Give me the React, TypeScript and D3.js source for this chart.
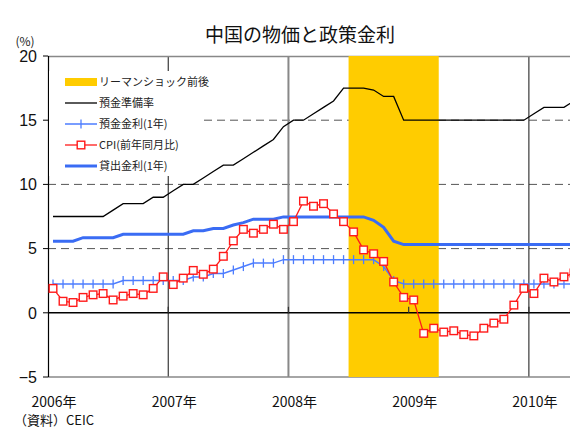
import React from "react";
import * as d3 from "d3";

// Monthly data, Jan 2006 – May 2010
const startYear = 2006;
const nMonths = 53;
const yearLabels = ["2006年", "2007年", "2008年", "2009年", "2010年"];
const yTicks = [20, 15, 10, 5, 0, -5];
const yTickLabels = ["20", "15", "10", "5", "0", "\u22125"];

const reserveRatio = [
  7.5, 7.5, 7.5, 7.5, 7.5, 7.5, 8.0, 8.5, 8.5, 8.5, 9.0, 9.0,
  9.5, 10.0, 10.0, 10.5, 11.0, 11.5, 11.5, 12.0, 12.5, 13.0, 13.5, 14.5,
  15.0, 15.0, 15.5, 16.0, 16.5, 17.5, 17.5, 17.5, 17.35, 16.85, 16.85, 15.0,
  15.0, 15.0, 15.0, 15.0, 15.0, 15.0, 15.0, 15.0, 15.0, 15.0, 15.0, 15.0,
  15.5, 16.0, 16.0, 16.0, 16.5,
];

const depositRate = [
  2.25, 2.25, 2.25, 2.25, 2.25, 2.25, 2.25, 2.52, 2.52, 2.52, 2.52, 2.52,
  2.52, 2.52, 2.79, 2.79, 3.06, 3.06, 3.33, 3.6, 3.87, 3.87, 3.87, 4.14,
  4.14, 4.14, 4.14, 4.14, 4.14, 4.14, 4.14, 4.14, 4.14, 3.6, 2.52, 2.25,
  2.25, 2.25, 2.25, 2.25, 2.25, 2.25, 2.25, 2.25, 2.25, 2.25, 2.25, 2.25,
  2.25, 2.25, 2.25, 2.25, 2.25,
];

const cpi = [
  1.9, 0.9, 0.8, 1.2, 1.4, 1.5, 1.0, 1.3, 1.5, 1.4, 1.9, 2.8,
  2.2, 2.7, 3.3, 3.0, 3.4, 4.4, 5.6, 6.5, 6.2, 6.5, 6.9, 6.5,
  7.1, 8.7, 8.3, 8.5, 7.7, 7.1, 6.3, 4.9, 4.6, 4.0, 2.4, 1.2,
  1.0, -1.6, -1.2, -1.5, -1.4, -1.7, -1.8, -1.2, -0.8, -0.5, 0.6, 1.9,
  1.5, 2.7, 2.4, 2.8, 3.1,
];

const lendingRate = [
  5.58, 5.58, 5.58, 5.85, 5.85, 5.85, 5.85, 6.12, 6.12, 6.12, 6.12, 6.12,
  6.12, 6.12, 6.39, 6.39, 6.57, 6.57, 6.84, 7.02, 7.29, 7.29, 7.29, 7.47,
  7.47, 7.47, 7.47, 7.47, 7.47, 7.47, 7.47, 7.47, 7.2, 6.66, 5.58, 5.31,
  5.31, 5.31, 5.31, 5.31, 5.31, 5.31, 5.31, 5.31, 5.31, 5.31, 5.31, 5.31,
  5.31, 5.31, 5.31, 5.31, 5.31,
];

// Lehman shock period: Jul 2008 – Mar 2009 (month indices)
const lehmanStart = 30;
const lehmanEnd = 39;

const legendItems = [
  "リーマンショック前後",
  "預金準備率",
  "預金金利(1年)",
  "CPI(前年同月比)",
  "貸出金利(1年)",
];

const months = d3.range(nMonths).map((i) => `${startYear + Math.floor(i / 12)}-${(i % 12) + 1}`);

const JP = "'Noto Sans CJK JP', 'Noto Sans', sans-serif";
const NUM = "'Liberation Sans', Arial, sans-serif";

export default function App() {
  const W = 570;
  const H = 428;
  const left = 48;
  const top = 56;
  const bottom = 377;
  const xScale = d3.scaleLinear().domain([0, months.length]).range([left, 579]);
  const y = d3.scaleLinear().domain([-5, 20]).range([bottom, top]);
  const xm = (i: number) => xScale(i + 0.5);
  const right = W;

  const line = d3
    .line<number>()
    .x((_, i) => xm(i))
    .y((d) => y(d));

  const blue = "#3a6cf4";
  const depBlue = "#4d7dff";
  const red = "#ff1a1a";
  const yellow = "#ffcc00";

  const yearTicks = [12, 24, 36, 48];

  return (
    <svg width={W} height={H} style={{ display: "block", position: "absolute", left: 0, top: 0 }}>
      <rect x={0} y={0} width={W} height={H} fill="#fff" />
      {/* title */}
      <text x={300} y={42} textAnchor="middle" fontFamily={JP} fontSize={19} fill="#111">
        中国の物価と政策金利
      </text>
      <text x={25} y={46} textAnchor="middle" fontFamily={JP} fontSize={12} fill="#222">
        (%)
      </text>

      {/* dashed gridlines */}
      {[5, 10, 15].map((v) => (
        <line key={v} x1={left} x2={right} y1={y(v)} y2={y(v)} stroke="#555" strokeWidth={1} strokeDasharray="8,5" />
      ))}
      {/* vertical year lines */}
      {yearTicks.map((m, k) => (
        <line
          key={m}
          x1={xScale(m)}
          x2={xScale(m)}
          y1={top}
          y2={bottom}
          stroke={k === 1 ? "#888" : "#111"}
          strokeWidth={k === 1 ? 2 : 1}
        />
      ))}
      {/* top/bottom border */}
      <line x1={left} x2={right} y1={top + 0.5} y2={top + 0.5} stroke="#888" strokeWidth={1.5} />
      <line x1={left} x2={right} y1={bottom} y2={bottom} stroke="#888" strokeWidth={1.5} />

      {/* Lehman band */}
      <rect
        x={xScale(lehmanStart)}
        y={top}
        width={xScale(lehmanEnd) - xScale(lehmanStart)}
        height={bottom - top}
        fill={yellow}
      />

      {/* zero line with ticks */}
      <line x1={left} x2={right} y1={y(0)} y2={y(0)} stroke="#000" strokeWidth={1.5} />
      {yearTicks.map((m) => (
        <line key={"t" + m} x1={xScale(m)} x2={xScale(m)} y1={y(0)} y2={y(0) - 6} stroke="#333" strokeWidth={1.2} />
      ))}

      {/* left axis */}
      <line x1={left + 0.5} x2={left + 0.5} y1={top} y2={bottom} stroke="#000" strokeWidth={1.2} />
      {yTicks.map((v, i) => (
        <g key={v}>
          <line x1={left - 5} x2={left} y1={y(v)} y2={y(v)} stroke="#000" strokeWidth={1} />
          <text x={37} y={y(v)} dy="0.36em" textAnchor="end" fontFamily={NUM} fontSize={16} fill="#111">
            {yTickLabels[i]}
          </text>
        </g>
      ))}

      {/* x labels */}
      {yearLabels.map((lab, k) => (
        <text key={lab} x={xScale(12 * k) + 6} y={407} textAnchor="middle" fontFamily={JP} fontSize={14} fill="#111">
          {lab}
        </text>
      ))}
      <text x={14} y={425} fontFamily={JP} fontSize={13} fill="#111">
        （資料）CEIC
      </text>

      {/* series */}
      <path d={line(reserveRatio) || ""} fill="none" stroke="#000" strokeWidth={1.3} />
      <path d={line(lendingRate) || ""} fill="none" stroke={blue} strokeWidth={3} />
      <path d={line(depositRate) || ""} fill="none" stroke={depBlue} strokeWidth={1.5} />
      {depositRate.map((v, i) => (
        <line key={"d" + i} x1={xm(i)} x2={xm(i)} y1={y(v) - 4.5} y2={y(v) + 4.5} stroke={depBlue} strokeWidth={1.3} />
      ))}
      <path d={line(cpi) || ""} fill="none" stroke={red} strokeWidth={1.3} />
      {cpi.map((v, i) => (
        <rect key={"c" + i} x={xm(i) - 3.8} y={y(v) - 3.8} width={7.6} height={7.6} fill="#fff" stroke={red} strokeWidth={1.4} />
      ))}

      {/* legend */}
      <rect x={49} y={71} width={152} height={105} fill="#fff" />
      {legendItems.map((lab, i) => {
        const ly = 82 + i * 21;
        return (
          <g key={lab}>
            {i === 0 && <rect x={65} y={ly - 4} width={32} height={8} fill={yellow} />}
            {i === 1 && <line x1={65} x2={97} y1={ly} y2={ly} stroke="#000" strokeWidth={1.3} />}
            {i === 2 && (
              <g>
                <line x1={65} x2={97} y1={ly} y2={ly} stroke={depBlue} strokeWidth={1.5} />
                <line x1={81} x2={81} y1={ly - 4.5} y2={ly + 4.5} stroke={depBlue} strokeWidth={1.3} />
              </g>
            )}
            {i === 3 && (
              <g>
                <line x1={65} x2={97} y1={ly} y2={ly} stroke={red} strokeWidth={1.3} />
                <rect x={77.2} y={ly - 3.8} width={7.6} height={7.6} fill="#fff" stroke={red} strokeWidth={1.4} />
              </g>
            )}
            {i === 4 && <line x1={65} x2={97} y1={ly} y2={ly} stroke={blue} strokeWidth={3} />}
            <text x={99} y={ly} dy="0.36em" fontFamily={JP} fontSize={11} fill="#222">
              {lab}
            </text>
          </g>
        );
      })}
    </svg>
  );
}
